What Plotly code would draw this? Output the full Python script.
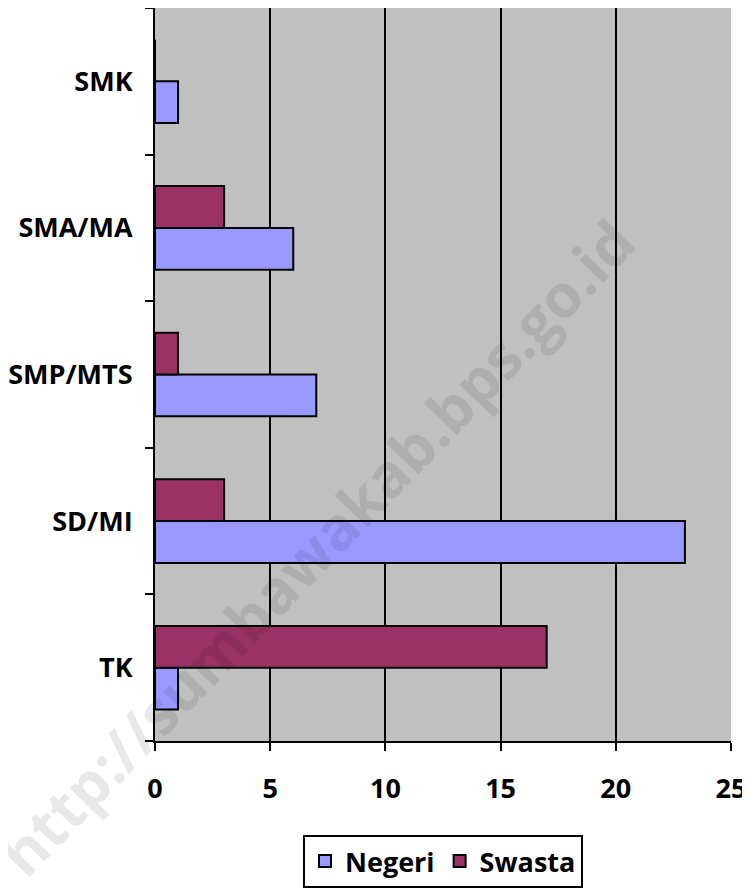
import plotly.graph_objects as go

categories = ["TK", "SD/MI", "SMP/MTS", "SMA/MA", "SMK"]
negeri = [1, 23, 7, 6, 1]
swasta = [17, 3, 1, 3, 0]
x_ticks = [0, 5, 10, 15, 20, 25]

font_family = "Open Sans"

fig = go.Figure()
fig.add_trace(
    go.Bar(
        y=categories,
        x=negeri,
        orientation="h",
        name="Negeri",
        marker={"color": "#9999FF", "line": {"color": "black", "width": 2}},
    )
)
fig.add_trace(
    go.Bar(
        y=categories,
        x=swasta,
        orientation="h",
        name="Swasta",
        marker={"color": "#993366", "line": {"color": "black", "width": 2}},
    )
)

# the page body has an 8px margin, so the figure is a bit smaller than the window
fig.update_layout(
    width=742,
    height=880,
    margin={"l": 147, "r": 19, "t": 0, "b": 146},
    paper_bgcolor="white",
    plot_bgcolor="#C0C0C0",
    barmode="group",
    bargap=0.43,
    bargroupgap=0,
    font={"family": font_family, "size": 27, "color": "black", "weight": "bold"},
    showlegend=True,
    legend={
        "orientation": "h",
        "x": 0.5,
        "xanchor": "center",
        "y": -0.128,
        "yanchor": "top",
        "bordercolor": "black",
        "borderwidth": 2,
        "font": {"family": font_family, "size": 27, "color": "black", "weight": "bold"},
        "itemwidth": 30,
    },
)

fig.update_xaxes(
    range=[0, 25],
    tickvals=x_ticks,
    ticks="outside",
    ticklen=8,
    tickwidth=2,
    tickcolor="black",
    ticklabelstandoff=15,
    showline=True,
    linecolor="black",
    linewidth=2,
    showgrid=True,
    gridcolor="black",
    gridwidth=2,
    zeroline=False,
)
fig.update_yaxes(
    categoryorder="array",
    categoryarray=categories,
    ticks="outside",
    tickson="boundaries",
    ticklen=8,
    tickwidth=2,
    tickcolor="black",
    ticklabelstandoff=15,
    showline=True,
    linecolor="black",
    linewidth=2,
    showgrid=False,
)

# watermark
fig.add_annotation(
    text="http://sumbawakab.bps.go.id",
    xref="paper",
    yref="paper",
    x=0.28,
    y=0.265,
    xanchor="center",
    yanchor="middle",
    showarrow=False,
    textangle=-46,
    font={"family": font_family, "size": 60, "color": "rgba(0,0,0,0.09)", "weight": "bold"},
)

fig.write_html("out.html")
